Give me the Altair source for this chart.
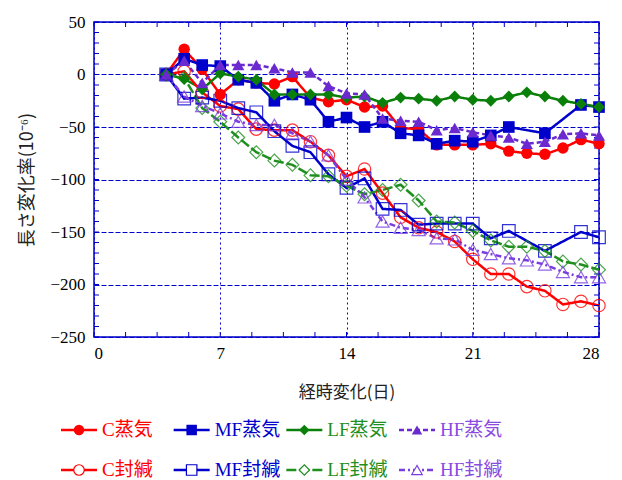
import altair as alt
import pandas as pd

# ---------------- data ----------------
days = list(range(4, 29))

C_steam  = [0, 24, 5, -19, -5, -8, -9, -2, -22, -26, -24, -31, -30, -51, -52, -67, -67, -67, -66, -73, -75, -76, -70, -62, -66]
MF_steam = [0, 15, 9, 8, -5, -8, -25, -19, -24, -45, -41, -50, -45, -56, -58, -66, -63, -64, -58, -50, None, -56, None, -29, -31]
LF_steam = [0, -4, -14, 1, -2, -5, -19, -19, -19, -19, -22, -21, -27, -22, -23, -25, -21, -24, -25, -21, -17, -21, -25, -28, -31]
HF_steam = [0, 13, -8, 9, 9, 9, 6, 2, 2, -11, -18, -19, -42, -44, -45, -53, -51, -55, -58, -60, -66, -64, -57, -56, -58]

C_seal  = [0, 3, -17, -30, -33, -52, -53, -53, -64, -77, -97, -90, -113, -136, -146, -150, -159, -176, -190, -190, -202, -206, -219, -216, -220]
MF_seal = [0, -23, -22, -25, -32, -36, -54, -68, -74, -95, -108, -99, -128, -129, -143, -142, -142, -142, -156, -149, None, -168, None, -150, -155]
LF_seal = [0, -3, -32, -45, -60, -74, -82, -86, -96, -97, -106, -114, -110, -105, -120, -140, -141, -149, -158, -164, -164, -168, -178, -181, -186]
HF_seal = [0, -21, -30, -37, -45, -48, -48, -56, -64, -77, -100, -117, -140, -146, -148, -156, -157, -167, -171, -175, -177, -181, -188, -193, -193]

steam_names = ["C蒸気", "MF蒸気", "LF蒸気", "HF蒸気"]
seal_names = ["C封緘", "MF封緘", "LF封緘", "HF封緘"]
names = steam_names + seal_names
values = [C_steam, MF_steam, LF_steam, HF_steam, C_seal, MF_seal, LF_seal, HF_seal]

x_ticks = [0, 7, 14, 21, 28]
y_ticks = [-250, -200, -150, -100, -50, 0, 50]
y_minor = list(range(-250, 51, 10))
x_minor = [i * 1.75 for i in range(17)]

legend_col = [0, 1, 2, 3, 0, 1, 2, 3]
legend_row = [0, 0, 0, 0, 1, 1, 1, 1]

# ---------------- styles ----------------
blue = "#0000cc"
line_colors = ["#ff0000", "#0000cc", "#0a800a", "#6a2ad0", "#ff0000", "#0000cc", "#1f8f1f", "#7a3ee0"]
text_colors = ["#ff0000", "#0000cc", "#1f8f1f", "#8a4be0", "#ff0000", "#0000cc", "#1f8f1f", "#8a4be0"]
shapes = ["circle", "square", "diamond", "triangle-up"] * 2
dashes = [[1, 0], [1, 0], [1, 0], [5, 3], [1, 0], [1, 0], [10, 3], [6, 3, 2, 3]]
widths = [2.5, 2.5, 2.5, 1, 2, 2.5, 1, 1]
sizes = [130, 170, 170, 150, 150, 180, 180, 160]

rows = []
for n, vals in zip(names, values):
    for d, v in zip(days, vals):
        if v is not None:
            rows.append({"series": n, "day": d, "value": v})
df = pd.DataFrame(rows)
df_seal = df[df["series"].isin(seal_names)]
df_steam = df[df["series"].isin(steam_names)]

xs = alt.Scale(domain=[0, 28], nice=False, zero=False)
ys = alt.Scale(domain=[-250, 50], nice=False, zero=False)

x_enc = alt.X("day:Q", scale=xs, axis=alt.Axis(
    values=x_ticks, title="経時変化(日)", grid=True, gridColor=blue, gridDash=[2, 3],
    gridWidth=1, tickSize=0, domain=False, labelPadding=8, labelFont="Liberation Serif",
    labelFontSize=17, labelColor="#000000", titleFont="Noto Sans CJK JP", titleFontSize=17,
    titleFontWeight="normal", titleColor="#222222", titlePadding=23))
y_enc = alt.Y("value:Q", scale=ys, axis=alt.Axis(
    values=y_ticks, title="長さ変化率(10⁻⁶)", grid=True, gridColor=blue, gridDash=[5, 2],
    gridWidth=1, tickSize=0, domain=False, labelPadding=9, labelFont="Liberation Serif",
    labelFontSize=17, labelColor="#000000", titleFont="Noto Sans CJK JP", titleFontSize=18,
    titleFontWeight="normal", titleColor="#222222", titlePadding=13))

color_s = alt.Scale(domain=names, range=line_colors)
shape_s = alt.Scale(domain=names, range=shapes)
dash_s = alt.Scale(domain=names, range=dashes)
width_s = alt.Scale(domain=names, range=widths)
size_s = alt.Scale(domain=names, range=sizes)

lines = alt.Chart(df).mark_line(strokeJoin="miter").encode(
    x=x_enc, y=y_enc,
    color=alt.Color("series:N", scale=color_s, legend=None),
    strokeDash=alt.StrokeDash("series:N", scale=dash_s, legend=None),
    strokeWidth=alt.StrokeWidth("series:N", scale=width_s, legend=None),
)
open_pts = alt.Chart(df_seal).mark_point(filled=False, strokeWidth=1.2, opacity=0.8).encode(
    x="day:Q", y="value:Q",
    color=alt.Color("series:N", scale=color_s, legend=None),
    shape=alt.Shape("series:N", scale=shape_s, legend=None),
    size=alt.Size("series:N", scale=size_s, legend=None),
)
filled_pts = alt.Chart(df_steam).mark_point(filled=True, opacity=1).encode(
    x="day:Q", y="value:Q",
    color=alt.Color("series:N", scale=color_s, legend=None),
    shape=alt.Shape("series:N", scale=shape_s, legend=None),
    size=alt.Size("series:N", scale=size_s, legend=None),
)

tick_y = pd.DataFrame({"value": y_minor})
tick_x = pd.DataFrame({"day": x_minor})
tl = alt.Chart(tick_y).mark_rule(color=blue, strokeWidth=1, x2Offset=5).encode(
    x=alt.datum(0), x2=alt.datum(0), y="value:Q")
tr = alt.Chart(tick_y).mark_rule(color=blue, strokeWidth=1, xOffset=-5).encode(
    x=alt.datum(28), x2=alt.datum(28), y="value:Q")
tb = alt.Chart(tick_x).mark_rule(color=blue, strokeWidth=1, yOffset=-5).encode(
    y=alt.datum(-250), y2=alt.datum(-250), x="day:Q")
tt = alt.Chart(tick_x).mark_rule(color=blue, strokeWidth=1, y2Offset=5).encode(
    y=alt.datum(50), y2=alt.datum(50), x="day:Q")

main = alt.layer(lines, tl, tr, tb, tt, open_pts, filled_pts).properties(
    width=505, height=315,
    view=alt.ViewBackground(stroke=blue, strokeWidth=1.5))

# ---------------- legend ----------------
leg = pd.DataFrame({"series": names, "col": legend_col, "row": legend_row})
lx = alt.X("col:Q", scale=alt.Scale(domain=[0, 3], nice=False, zero=False), axis=None)
ly = alt.Y("row:Q", scale=alt.Scale(domain=[0, 1], reverse=True, nice=False, zero=False), axis=None)

leg_line = alt.Chart(leg).mark_rule(xOffset=-33, x2Offset=3).encode(
    x=lx, x2="col:Q", y=ly,
    color=alt.Color("series:N", scale=color_s, legend=None),
    strokeDash=alt.StrokeDash("series:N", scale=dash_s, legend=None),
    strokeWidth=alt.StrokeWidth("series:N", scale=width_s, legend=None),
)
leg_open = alt.Chart(leg).transform_filter(
    alt.FieldOneOfPredicate(field="series", oneOf=seal_names)
).mark_point(filled=False, strokeWidth=1.2, xOffset=-15, size=110, fill="white", fillOpacity=1).encode(
    x=lx, y=ly,
    color=alt.Color("series:N", scale=color_s, legend=None),
    shape=alt.Shape("series:N", scale=shape_s, legend=None),
)
leg_fill = alt.Chart(leg).transform_filter(
    alt.FieldOneOfPredicate(field="series", oneOf=steam_names)
).mark_point(filled=True, opacity=1, xOffset=-15, size=110).encode(
    x=lx, y=ly,
    color=alt.Color("series:N", scale=color_s, legend=None),
    shape=alt.Shape("series:N", scale=shape_s, legend=None),
)
leg_text = alt.Chart(leg).mark_text(align="left", baseline="middle", xOffset=8,
                                     font="Liberation Serif, Noto Sans CJK JP", fontSize=19).encode(
    x=lx, y=ly, text="series:N",
    fill=alt.Fill("series:N", scale=alt.Scale(domain=names, range=text_colors), legend=None),
)
legend = alt.layer(leg_line, leg_open, leg_fill, leg_text).properties(
    width=338, height=40, view=alt.ViewBackground(stroke="transparent"))

chart = alt.vconcat(main, legend, spacing=19).resolve_scale(
    x="independent", y="independent").properties(
    padding={"left": 10, "top": 4, "right": 5, "bottom": 5})

chart.save("out.html", embed_options={"renderer": "svg", "actions": False})
